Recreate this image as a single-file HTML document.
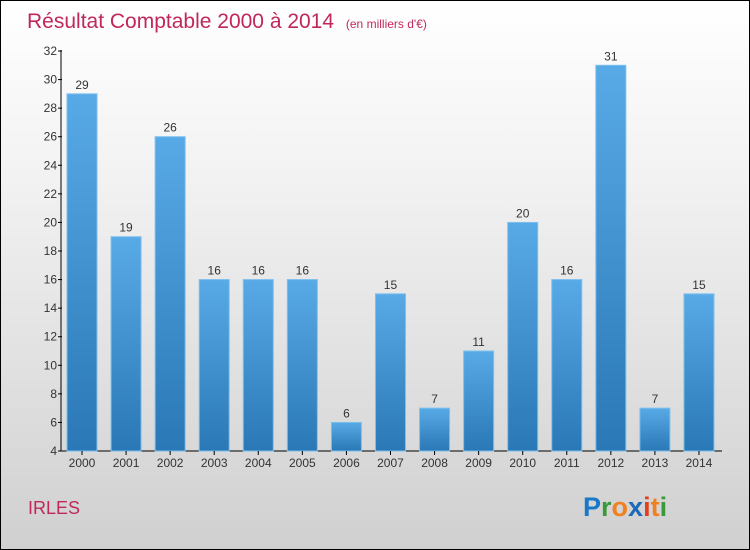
<!DOCTYPE html>
<html><head><meta charset="utf-8"><style>
html,body{margin:0;padding:0}
#wrap{width:748px;height:548px;border:1px solid #000;background:linear-gradient(#ffffff,#f3f3f3 30%,#d0d0d0);position:relative;overflow:hidden;font-family:"Liberation Sans",sans-serif}
</style></head><body>
<div id="wrap">
<svg id="chart" width="748" height="548">
<defs><linearGradient id="bg" x1="0" y1="0" x2="0" y2="1"><stop offset="0" stop-color="#58aae6"/><stop offset="1" stop-color="#2a78b6"/></linearGradient></defs>
<text x="26" y="27" font-size="21" fill="#c0285a">Résultat Comptable 2000 à 2014 <tspan font-size="12" dx="6">(en milliers d'€)</tspan></text>
<text x="27" y="513" font-size="18" fill="#c0285a">IRLES</text>
<text x="582" y="515" font-size="27" font-weight="bold"><tspan fill="#1a78c8">P</tspan><tspan fill="#3a9a3a">r</tspan><tspan fill="#f08020">o</tspan><tspan fill="#1a6ab8">x</tspan><tspan fill="#e04020">i</tspan><tspan fill="#f08020">t</tspan><tspan fill="#3a9a3a">i</tspan></text>
<g id="g"></g>
</svg></div>
<script>
const categories=["2000","2001","2002","2003","2004","2005","2006","2007","2008","2009","2010","2011","2012","2013","2014"];
const values=[29,19,26,16,16,16,6,15,7,11,20,16,31,7,15];
const yTicks=[4,6,8,10,12,14,16,18,20,22,24,26,28,30,32];
const NS="http://www.w3.org/2000/svg";
const g=document.getElementById('g');
const y=v=>450-(v-4)*(400/28);
const x=i=>66+i*44.07;
function mk(t,a){const e=document.createElementNS(NS,t);for(const k in a)e.setAttribute(k,a[k]);g.appendChild(e);return e;}
let ax=mk('line',{x1:60,y1:49,x2:60,y2:450,stroke:'#000'});


let bx=mk('line',{x1:60,y1:450,x2:721,y2:450,stroke:'#000'});


yTicks.forEach(t=>{
 let l=mk('line',{x1:57,x2:61,y1:y(t),y2:y(t),stroke:'#000'});
 
 
 let tx=mk('text',{x:56,y:y(t)+4,'font-size':12,fill:'#333','text-anchor':'end'});
 tx.textContent=t;
 
 
});
categories.forEach((c,i)=>{
 let r=mk('rect',{x:x(i),y:y(values[i]),width:30,height:450-y(values[i]),fill:'url(#bg)',stroke:'#7cc0ee','stroke-width':1});
 
 
 let v=mk('text',{x:x(i)+15,y:y(values[i])-5,'font-size':12,fill:'#333','text-anchor':'middle'});
 v.textContent=values[i];
 
 
 let tk=mk('line',{x1:x(i)+15,x2:x(i)+15,y1:450,y2:454,stroke:'#000'});
 
 
 let cl=mk('text',{x:x(i)+15,y:466,'font-size':12,fill:'#333','text-anchor':'middle'});
 cl.textContent=c;
 
 
});
</script>
</body></html>
